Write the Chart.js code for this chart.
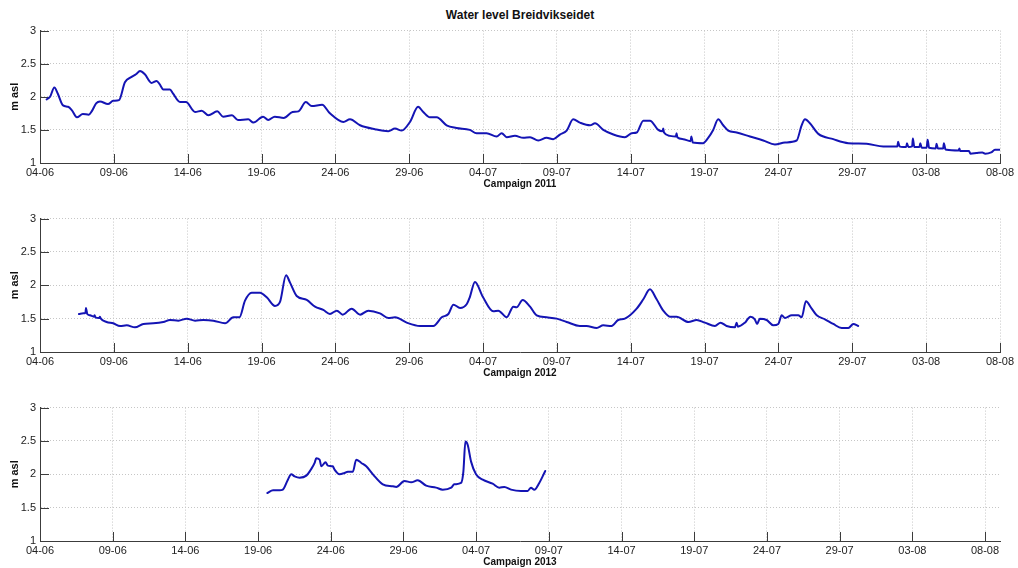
<!DOCTYPE html>
<html>
<head>
<meta charset="utf-8">
<title>Water level Breidvikseidet</title>
<script src="https://cdn.jsdelivr.net/npm/chart.js@4.4.0/dist/chart.umd.min.js"></script>
<style>
  html, body { margin: 0; padding: 0; background: #fff; }
  #wrap { position: relative; width: 1018px; height: 568px; overflow: hidden; }
  #wrap canvas { position: absolute; left: 0; }
  #title {
    position: absolute; left: 40px; width: 960px; top: 8px;
    text-align: center; line-height: 14px;
    font: bold 12px "Liberation Sans", Arial, sans-serif; color: #111;
  }
</style>
</head>
<body>
<div id="wrap">
  <div id="title">Water level Breidvikseidet</div>
  <canvas id="c2011" width="1018" height="173" style="top:20px"></canvas>
  <canvas id="c2012" width="1018" height="174" style="top:208px"></canvas>
  <canvas id="c2013" width="1018" height="171" style="top:397px"></canvas>
</div>
<script>
// Time axis: days counted from 04-06 00:00, one tick every five days
const tickDays   = [0, 5, 10, 15, 20, 25, 30, 35, 40, 45, 50, 55, 60, 65];
const tickLabels = ['04-06', '09-06', '14-06', '19-06', '24-06', '29-06', '04-07',
                    '09-07', '14-07', '19-07', '24-07', '29-07', '03-08', '08-08'];
const levelTicks  = [1, 1.5, 2, 2.5, 3];
const levelLabels = ['1', '1.5', '2', '2.5', '3'];

// Campaign 2011
const days2011 = [
  0.45, 0.68, 0.97, 1.2, 1.56, 1.9, 2.15, 2.5, 2.9, 3.3, 3.5, 3.8, 4.06, 4.6, 4.96, 5.35,
  5.75, 6.2, 6.5, 6.77, 7.1, 7.55, 7.9, 8.1, 8.35, 8.8, 9.0, 9.48, 9.88, 10.5, 10.95, 11.4,
  12.0, 12.4, 13.0, 13.4, 14.1, 14.45, 15.1, 15.45, 15.9, 16.5, 17.1, 17.5, 18.0, 18.4, 19.1,
  19.63, 20.54, 20.99, 21.67, 22.68, 23.58, 24.04, 24.49, 25.05, 25.6, 25.95, 26.4, 26.86,
  27.53, 28.2, 29.1, 29.56, 30.24, 30.92, 31.26, 31.6, 32.16, 32.72, 33.18, 33.74, 34.3,
  34.75, 35.2, 35.66, 36.1, 36.56, 37.24, 37.58, 38.14, 38.82, 39.6, 40.06, 40.4, 40.85,
  41.3, 41.86, 42.15, 42.2, 42.25, 42.65, 43.05, 43.1, 43.15, 43.55, 44.05, 44.1, 44.2,
  44.9, 45.24, 45.58, 45.92, 46.26, 46.6, 47.17, 48.07, 48.97, 49.76, 50.44, 51.23, 51.57,
  51.8, 52.13, 52.7, 53.71, 54.73, 55.97, 57.1, 58.05, 58.1, 58.2, 58.45, 58.65, 58.7, 58.8,
  59.05, 59.1, 59.2, 59.55, 59.6, 59.7, 60.03, 60.1, 60.2, 60.65, 60.7, 60.8, 61.15, 61.2,
  61.3, 61.39, 62.2, 62.25, 62.3, 62.5, 62.9, 63.0, 63.4, 63.8, 64.0, 64.4, 64.66, 65.0
];
const level2011 = [
  1.96, 2.00, 2.14, 2.05, 1.87, 1.85, 1.80, 1.69, 1.74, 1.73, 1.78, 1.90, 1.93, 1.89, 1.94, 1.95,
  2.22, 2.30, 2.34, 2.39, 2.34, 2.21, 2.24, 2.19, 2.11, 2.11, 2.05, 1.92, 1.92, 1.77, 1.79, 1.72,
  1.78, 1.70, 1.72, 1.65, 1.66, 1.61, 1.70, 1.65, 1.70, 1.68, 1.77, 1.78, 1.92, 1.86, 1.88,
  1.75, 1.62, 1.66, 1.57, 1.51, 1.48, 1.52, 1.49, 1.62, 1.85, 1.77, 1.69, 1.69,
  1.57, 1.53, 1.50, 1.45, 1.45, 1.40, 1.45, 1.39, 1.41, 1.38, 1.39, 1.34, 1.38,
  1.36, 1.43, 1.49, 1.66, 1.61, 1.57, 1.60, 1.50, 1.43, 1.39, 1.45, 1.46, 1.64,
  1.64, 1.50, 1.48, 1.52, 1.46, 1.41, 1.40, 1.45, 1.39, 1.36, 1.33, 1.40, 1.31,
  1.30, 1.38, 1.50, 1.66, 1.57, 1.49, 1.46, 1.40, 1.34, 1.28, 1.31, 1.34, 1.57,
  1.66, 1.60, 1.44, 1.36, 1.30, 1.29, 1.25, 1.25, 1.32, 1.25, 1.24, 1.24, 1.30, 1.24,
  1.25, 1.37, 1.24, 1.24, 1.30, 1.23, 1.23, 1.35, 1.23, 1.22, 1.29, 1.22, 1.22, 1.30,
  1.21, 1.20, 1.19, 1.22, 1.18, 1.18, 1.18, 1.14, 1.15, 1.16, 1.14, 1.16, 1.20, 1.20
];

// Campaign 2012
const days2012 = [
  2.64, 2.93, 3.08, 3.11, 3.2, 3.39, 3.65, 3.7, 3.75, 4.0, 4.06, 4.12, 4.51, 4.96, 5.42, 5.87,
  6.43, 7.0, 7.67, 8.35, 8.8, 9.37, 9.93, 10.5, 11.06, 11.74, 12.53, 13.09, 13.5, 13.88,
  14.33, 14.9, 15.35, 15.91, 16.25, 16.66, 16.93, 17.38, 18.06, 18.62, 19.18, 19.63, 20.1,
  20.5, 21.1, 21.67, 22.23, 23.02, 23.58, 24.04, 24.83, 25.73, 26.63, 27.2, 27.65, 27.99,
  28.44, 28.9, 29.1, 29.45, 30.0, 30.69, 31.03, 31.6, 32.05, 32.27, 32.68, 33.18, 33.63,
  34.3, 34.98, 35.66, 36.56, 37.0, 37.69, 38.14, 38.7, 39.15, 39.6, 40.4, 40.85, 41.3,
  41.75, 42.2, 42.65, 43.1, 43.9, 44.46, 45.02, 45.7, 46.08, 46.49, 47.05, 47.17, 47.25,
  47.73, 48.1, 48.4, 48.55, 48.74, 49.2, 49.65, 49.99, 50.22, 50.44, 50.9, 51.34, 51.57,
  51.86, 52.25, 52.59, 53.15, 53.71, 54.28, 54.73, 55.07, 55.4
];
const level2012 = [
  1.57, 1.58, 1.59, 1.66, 1.57, 1.55, 1.53, 1.55, 1.52, 1.51, 1.53, 1.50, 1.45, 1.43, 1.39, 1.40,
  1.37, 1.42, 1.43, 1.45, 1.48, 1.47, 1.50, 1.47, 1.48, 1.47, 1.43, 1.52, 1.52, 1.77,
  1.89, 1.89, 1.82, 1.69, 1.75, 2.15, 2.04, 1.84, 1.78, 1.68, 1.63, 1.57, 1.62,
  1.56, 1.65, 1.56, 1.62, 1.58, 1.51, 1.52, 1.44, 1.39, 1.39, 1.52, 1.57, 1.71,
  1.66, 1.72, 1.82, 2.05, 1.82, 1.61, 1.62, 1.52, 1.68, 1.67, 1.78, 1.68, 1.55,
  1.52, 1.50, 1.45, 1.39, 1.39, 1.36, 1.40, 1.39, 1.48, 1.50, 1.65, 1.79, 1.94,
  1.79, 1.62, 1.53, 1.53, 1.45, 1.48, 1.44, 1.39, 1.44, 1.39, 1.37, 1.44, 1.38,
  1.44, 1.53, 1.49, 1.42, 1.50, 1.48, 1.40, 1.42, 1.55, 1.51, 1.55, 1.55, 1.52,
  1.76, 1.65, 1.55, 1.49, 1.42, 1.36, 1.36, 1.42, 1.39
];

// Campaign 2013
const days2013 = [
  15.64, 16.03, 16.48, 16.7, 17.05, 17.28, 17.51, 17.86, 18.32, 18.6, 18.89, 19.0, 19.23,
  19.35, 19.64, 19.8, 20.14, 20.26, 20.6, 20.95, 21.17, 21.52, 21.75, 22.1, 22.44, 22.9,
  23.58, 24.27, 24.5, 25.07, 25.53, 25.98, 26.56, 27.24, 27.7, 28.28, 28.5, 28.96, 29.12,
  29.26, 29.42, 29.65, 29.99, 30.45, 31.13, 31.59, 31.94, 32.4, 33.08, 33.54, 33.77, 34.0,
  34.34, 34.75
];
const level2013 = [
  1.72, 1.76, 1.76, 1.77, 1.92, 2.00, 1.97, 1.95, 1.98, 2.06, 2.17, 2.24, 2.22,
  2.12, 2.18, 2.13, 2.12, 2.07, 2.00, 2.02, 2.04, 2.04, 2.22, 2.17, 2.12, 2.00,
  1.85, 1.82, 1.81, 1.90, 1.88, 1.91, 1.83, 1.80, 1.77, 1.80, 1.85, 1.87, 2.04,
  2.49, 2.44, 2.19, 2.00, 1.92, 1.86, 1.80, 1.81, 1.77, 1.75, 1.75, 1.80, 1.77,
  1.87, 2.05
];

Chart.defaults.font.family = '"Liberation Sans", Arial, Helvetica, sans-serif';
Chart.defaults.color = '#222';

const GRID = '#c6c6c6';
const AXIS = '#3c3c3c';
const LINE = '#1414b4';

// Tick marks drawn on the inner side of the left and bottom axes
const inwardTicks = {
  id: 'inwardTicks',
  beforeDatasetsDraw(chart) {
    const { ctx, scales: { x, y }, chartArea } = chart;
    ctx.save();
    ctx.strokeStyle = AXIS;
    ctx.lineWidth = 1;
    ctx.beginPath();
    x.ticks.forEach(t => {
      const px = Math.round(x.getPixelForValue(t.value)) + 0.5;
      ctx.moveTo(px, chartArea.bottom);
      ctx.lineTo(px, chartArea.bottom - 9);
    });
    y.ticks.forEach(t => {
      const py = Math.round(y.getPixelForValue(t.value)) + 0.5;
      ctx.moveTo(chartArea.left, py);
      ctx.lineTo(chartArea.left + 9, py);
    });
    ctx.stroke();
    ctx.restore();
  }
};

function makePanel(id, days, levels, xMax, xTitle, axisHeight) {
  return new Chart(document.getElementById(id), {
    type: 'line',
    data: {
      datasets: [{
        data: days.map((d, i) => ({ x: d, y: levels[i] })),
        borderColor: LINE,
        borderWidth: 2,
        borderJoinStyle: 'round',
        borderCapStyle: 'round',
        pointRadius: 0,
        cubicInterpolationMode: 'monotone',
        fill: false
      }]
    },
    options: {
      responsive: false,
      animation: false,
      devicePixelRatio: 1,
      events: [],
      layout: { padding: { left: 0, right: 18, top: 8, bottom: 0 } },
      plugins: { legend: { display: false }, tooltip: { enabled: false } },
      scales: {
        x: {
          type: 'linear',
          min: 0,
          max: xMax,
          afterBuildTicks: s => { s.ticks = tickDays.map(v => ({ value: v })); },
          afterFit: s => { s.height = axisHeight; },
          ticks: {
            autoSkip: false, maxRotation: 0, padding: 3,
            font: { size: 11 }, color: '#222',
            callback: (v, i) => tickLabels[i]
          },
          grid: { color: GRID, lineWidth: 1, drawTicks: false },
          border: { display: true, color: AXIS, width: 1, dash: [1, 2] },
          title: {
            display: true, text: xTitle, color: '#111',
            font: { size: 10, weight: 'bold' },
            padding: { top: 0, bottom: axisHeight === 30 ? 3 : 0 }
          }
        },
        y: {
          min: 1,
          max: 3,
          afterBuildTicks: s => { s.ticks = levelTicks.map(v => ({ value: v })); },
          afterFit: s => { s.width = 40; },
          ticks: {
            padding: 4, font: { size: 11 }, color: '#222',
            callback: (v, i) => levelLabels[i]
          },
          grid: { color: GRID, lineWidth: 1, drawTicks: false },
          border: { display: true, color: AXIS, width: 1, dash: [1, 2] },
          title: {
            display: true, text: 'm asl', color: '#111',
            font: { size: 11, weight: 'bold' },
            padding: { top: 8, bottom: 0 }
          }
        }
      }
    },
    plugins: [inwardTicks]
  });
}

makePanel('c2011', days2011, level2011, 65, 'Campaign 2011', 30);
makePanel('c2012', days2012, level2012, 65, 'Campaign 2012', 30);
makePanel('c2013', days2013, level2013, 66.03, 'Campaign 2013', 27);
</script>
</body>
</html>
